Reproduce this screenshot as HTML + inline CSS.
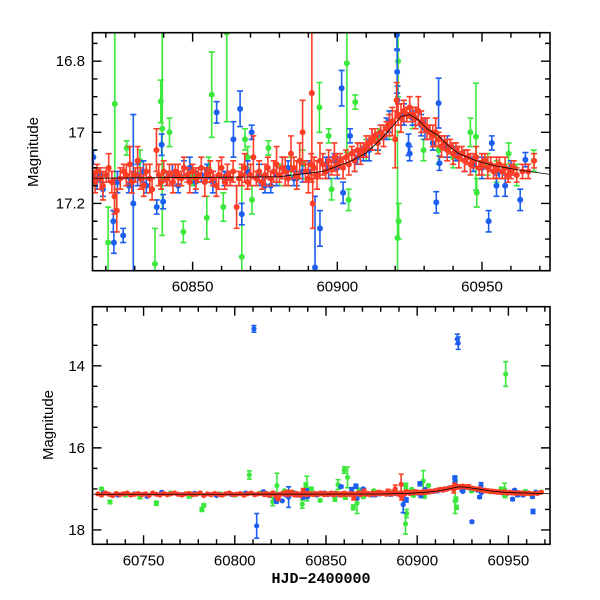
<!DOCTYPE html>
<html><head><meta charset="utf-8"><style>
html,body{margin:0;padding:0;background:#fff;}
svg{display:block;font-family:"Liberation Sans",sans-serif;}
</style></head><body>
<svg id="chart" width="600" height="600" viewBox="0 0 600 600" xmlns="http://www.w3.org/2000/svg">
<defs>
<clipPath id="clipTop"><rect x="92.5" y="32.7" width="457.5" height="238"/></clipPath>
<clipPath id="clipBot"><rect x="92.5" y="306.7" width="457.5" height="237.6"/></clipPath>
</defs>
<g id="topPanel"></g>
<g id="botPanel"></g>
<text x="0" y="0" transform="translate(38,152) rotate(-90)" text-anchor="middle" font-size="15">Magnitude</text>
<text x="0" y="0" transform="translate(53,425) rotate(-90)" text-anchor="middle" font-size="15">Magnitude</text>
<text x="321" y="583" text-anchor="middle" font-size="15" font-family="Liberation Mono, monospace" font-weight="bold">HJD−2400000</text>
</svg>
<script>
// ---- data ----
const redT=[60725,60727,60729,60731,60733,60735,60737,60739,60741,60743,60745,60747,60749,60751,60753,60755,60757,60759,60761,60763,60765,60767,60769,60771,60773,60775,60777,60779,60781,60783,60785,60787,60789,60791,60793,60795,60797,60799,60801,60803,60805,60807,60809,60811,60813,
60815.5,60816.3,60817.0,60818.1,60819.0,60820.2,60821.0,60822.1,60823.0,60823.8,60825.0,60826.2,60827.1,60828.3,60829.0,60830.2,60831.0,60832.0,60833.1,60834.0,60835.2,60836.0,60837.5,60838.3,60839.1,60840.0,60841.2,60842.0,60843.2,60844.0,60845.0,60846.1,60847.0,60848.2,60849.0,60850.0,60851.1,60852.0,60853.0,60854.2,60855.0,60856.1,60857.0,60858.2,60859.0,60860.0,60861.1,60862.0,60863.0,60864.0,60865.2,60866.0,60867.0,60868.0,60869.0,60870.0,60871.0,60872.0,60873.0,60874.0,60875.0,60876.0,60877.0,60878.0,60879.0,60880.0,60881.0,60882.0,60883.0,60884.0,60885.0,60886.0,60887.0,60888.0,60889.0,60890.0,60891.0,60891.5,60891.2,
60892,60893,60894,60895,60896,60897,60898,60899,60900,60901,60902,60903,60904,60905,60906,60907,60908,60909,60910,60911,60912,60913,60914,60915,60916,60917,60918,60919,60920,60920.5,60921,60922,60923,60924,60925,60926,60927,60928,60929,60930,60931,60932,60933,60934,60935,60936,60937,60938,60939,60940,60941,60942,60943,60944,60945,60946,60947,60948,60949,60950,60951,60952,60953,60954,60955,60956,60957,60958,60959,60960,60961,60962,60964,60966,60968];
const redM=[17.12,17.15,17.10,17.13,17.16,17.11,17.14,17.12,17.10,17.15,17.13,17.11,17.14,17.12,17.16,17.10,17.13,17.15,17.11,17.14,17.12,17.10,17.13,17.15,17.12,17.11,17.14,17.13,17.10,17.16,17.12,17.14,17.11,17.13,17.15,17.12,17.10,17.14,17.13,17.11,17.15,17.12,17.10,17.14,17.12,
17.12,17.14,17.11,17.13,17.15,17.12,17.10,17.14,17.18,17.22,17.13,17.11,17.12,17.09,17.14,17.12,17.08,17.13,17.15,17.11,17.13,17.16,17.05,17.12,17.14,17.11,17.13,17.12,17.14,17.11,17.12,17.13,17.10,17.12,17.14,17.11,17.13,17.12,17.10,17.14,17.12,17.11,17.13,17.15,17.12,17.10,17.14,17.12,17.13,17.11,17.21,17.13,17.12,17.10,17.14,17.12,17.07,17.13,17.11,17.14,17.12,17.10,17.13,17.11,17.09,17.12,17.10,17.11,17.13,17.06,17.10,17.12,17.08,17.00,17.11,17.13,17.09,17.20,16.89,
17.10,17.12,17.08,17.09,17.11,17.08,17.10,17.07,17.09,17.08,17.10,17.07,17.09,17.06,17.08,17.05,17.06,17.05,17.04,17.03,17.02,17.01,17.03,17.00,17.01,16.99,16.98,16.97,17.02,16.91,16.95,16.96,16.94,16.95,16.93,16.95,16.96,16.94,16.97,16.98,16.99,17.00,17.01,17.00,17.02,17.04,17.03,17.05,17.04,17.06,17.05,17.07,17.06,17.08,17.07,17.09,17.08,17.07,17.10,17.09,17.08,17.10,17.09,17.11,17.10,17.09,17.11,17.10,17.12,17.11,17.10,17.12,17.11,17.11,17.08];
const redE=[0.02,0.02,0.03,0.02,0.03,0.02,0.02,0.03,0.02,0.02,0.03,0.02,0.02,0.03,0.02,0.02,0.03,0.02,0.02,0.03,0.02,0.02,0.03,0.02,0.02,0.03,0.02,0.02,0.03,0.02,0.02,0.03,0.02,0.02,0.03,0.02,0.02,0.03,0.02,0.02,0.03,0.02,0.02,0.03,0.02,
0.02,0.03,0.02,0.03,0.04,0.02,0.04,0.03,0.05,0.06,0.03,0.02,0.03,0.05,0.03,0.02,0.04,0.03,0.03,0.02,0.04,0.03,0.06,0.03,0.02,0.03,0.02,0.03,0.03,0.02,0.03,0.02,0.03,0.02,0.03,0.02,0.03,0.02,0.03,0.04,0.02,0.03,0.02,0.03,0.04,0.03,0.02,0.03,0.02,0.03,0.06,0.02,0.03,0.04,0.02,0.03,0.06,0.02,0.03,0.02,0.03,0.03,0.02,0.03,0.05,0.02,0.03,0.04,0.02,0.05,0.03,0.04,0.05,0.09,0.03,0.04,0.03,0.07,0.25,
0.03,0.04,0.05,0.03,0.02,0.03,0.02,0.04,0.03,0.02,0.03,0.02,0.03,0.02,0.03,0.02,0.03,0.02,0.03,0.02,0.03,0.02,0.03,0.02,0.03,0.02,0.03,0.04,0.08,0.05,0.03,0.04,0.03,0.02,0.03,0.02,0.03,0.04,0.03,0.02,0.03,0.02,0.03,0.04,0.02,0.03,0.02,0.03,0.02,0.03,0.02,0.03,0.02,0.03,0.02,0.03,0.02,0.03,0.02,0.03,0.02,0.03,0.02,0.02,0.03,0.02,0.02,0.03,0.02,0.02,0.02,0.02,0.02,0.02,0.02];

const blueT=[60728,60736,60745,60752,60760,60771,60778,60790,60798,60806,60810.5,60812,60815.7,60817,60819,60822.6,60822.8,60826,60829.5,60831,60834,60837.6,60839.3,60839.8,60843,60847,60851,60855,60858.3,60861,60864.1,60866.4,60867,60870.4,60873,60877,60881,60885,60888,60892.3,60894,60897,60899,60901.5,60902,60904.4,60906,60909,60912,60915,60918,60920.6,60920.7,60920.8,60922,60922.5,60923,60924.6,60925,60927,60930,60930.3,60933,60934.2,60935,60935.3,60938,60941,60944,60947,60950,60952.3,60953.4,60955,60956,60958,60960,60963.2,60963.5,60965,
60818,60824,60828,60833,60841,60845,60849,60853,60857,60863,60869,60875,60879,60883,60886,60890,60896,60900,60907,60911,60914,60917,60926,60929];
const blueM=[17.10,17.15,17.12,17.18,17.08,17.14,17.11,17.16,17.13,17.10,13.10,17.90,17.07,17.13,17.16,17.25,17.31,17.29,17.20,17.12,17.15,17.21,17.035,17.195,17.12,17.10,17.14,17.11,16.944,17.13,17.02,16.934,17.23,17.00,17.12,17.15,17.10,17.13,17.11,17.38,17.27,17.10,17.08,16.876,17.17,17.01,17.08,17.06,17.02,17.00,16.97,16.726,16.83,16.91,13.35,13.45,16.95,17.035,17.06,16.96,17.80,16.99,17.03,17.197,16.918,17.087,17.04,17.06,17.08,17.09,17.10,17.25,17.03,17.15,17.11,17.15,17.10,17.19,17.55,17.077,
17.12,17.14,17.15,17.11,17.13,17.15,17.10,17.12,17.14,17.13,17.11,17.15,17.12,17.10,17.13,17.11,17.09,17.10,17.07,17.05,17.03,16.99,16.96,16.98];
const blueE=[0.02,0.03,0.02,0.03,0.02,0.02,0.03,0.02,0.03,0.02,0.08,0.30,0.02,0.03,0.02,0.03,0.03,0.02,0.25,0.03,0.02,0.02,0.03,0.02,0.03,0.02,0.03,0.02,0.03,0.02,0.05,0.05,0.03,0.02,0.03,0.02,0.03,0.02,0.03,0.20,0.05,0.03,0.02,0.05,0.03,0.02,0.03,0.02,0.03,0.02,0.03,0.04,0.06,0.04,0.12,0.15,0.03,0.03,0.02,0.03,0.02,0.03,0.02,0.03,0.07,0.02,0.03,0.02,0.03,0.02,0.03,0.03,0.02,0.03,0.02,0.03,0.02,0.03,0.05,0.02,
0.02,0.03,0.02,0.03,0.02,0.02,0.03,0.02,0.03,0.02,0.03,0.02,0.03,0.02,0.02,0.03,0.02,0.03,0.02,0.03,0.02,0.03,0.02,0.03];

const greenT=[60727,60731.6,60740,60748,60757,60765,60775,60782,60783,60792,60800,60808,60814,60820.8,60823.1,60827.2,60831.8,60837,60839,60839.5,60842,60846.8,60850,60854.9,60855.5,60856.6,60860,60860.6,60861.8,60865,60867,60868.1,60869,60870.5,60876.2,60880,60884,60888,60893.6,60893.8,60894.2,60897,60898,60903.3,60903.9,60906.2,60910,60914,60918,60920.8,60921,60921.2,60921.5,60926,60929.8,60935,60940,60946,60947.9,60948.2,60948.5,60952,60955,60959.2,60962,60967.9];
const greenM=[17.00,17.32,17.15,17.20,17.35,17.10,17.18,17.50,17.40,17.12,17.15,16.66,17.10,17.31,16.92,17.044,17.08,17.37,16.913,16.99,17.00,17.28,17.12,17.24,17.10,16.894,16.54,17.21,16.72,17.45,17.35,17.02,17.07,17.19,17.044,17.12,17.10,17.09,17.85,16.93,17.60,17.01,17.16,16.806,17.19,16.915,17.05,17.02,16.98,17.297,16.80,17.25,17.45,16.96,17.05,17.05,17.07,17.00,17.012,17.17,14.20,17.09,17.11,17.06,17.12,17.08];
const greenE=[0.03,0.04,0.03,0.04,0.05,0.03,0.04,0.05,0.04,0.03,0.03,0.10,0.03,0.10,0.30,0.02,0.03,0.10,0.06,0.30,0.04,0.03,0.03,0.06,0.03,0.12,0.08,0.04,0.25,0.06,0.25,0.03,0.03,0.04,0.02,0.03,0.03,0.04,0.25,0.07,0.10,0.02,0.03,0.25,0.03,0.02,0.03,0.03,0.04,0.30,0.10,0.05,0.05,0.03,0.03,0.04,0.03,0.04,0.15,0.04,0.30,0.03,0.03,0.03,0.03,0.03];

const modelT=[60720,60800,60880,60895,60900,60905,60910,60915,60920,60922,60925,60928,60931,60935,60938,60942,60948,60955,60962,60968,60975];
const modelM=[17.13,17.13,17.125,17.11,17.095,17.08,17.058,17.02,16.975,16.955,16.95,16.965,16.99,17.01,17.035,17.06,17.08,17.095,17.105,17.112,17.12];

const topXTicks=[60850,60900,60950];
const topYTicks=[16.8,17,17.2];
const botXTicks=[60750,60800,60850,60900,60950];
const botYTicks=[14,16,18];

// ---- rendering ----
const NS="http://www.w3.org/2000/svg";
function mk(tag,attrs,parent){const e=document.createElementNS(NS,tag);for(const k in attrs)e.setAttribute(k,attrs[k]);parent.appendChild(e);return e;}
const L=92.5,R=550;
const panels=[
 {g:document.getElementById('topPanel'),name:'top',top:32.7,bot:270.7,x0:60815.4,x1:60973.5,y0:16.72,y1:17.389,xMajor:50,xMinor:10,yMajor:0.2,yMinor:0.05,xT:topXTicks,yT:topYTicks,clip:'url(#clipTop)',r:3,cap:3},
 {g:document.getElementById('botPanel'),name:'bottom',top:306.7,bot:544.3,x0:60722,x1:60972.8,y0:12.56,y1:18.35,xMajor:50,xMinor:10,yMajor:2,yMinor:0.5,xT:botXTicks,yT:botYTicks,clip:'url(#clipBot)',r:2.6,cap:2.5}
];
const series=[
 {name:'green',T:greenT,M:greenM,E:greenE,c:'#3de83d'},
 {name:'blue',T:blueT,M:blueM,E:blueE,c:'#1c5ff0'},
 {name:'red',T:redT,M:redM,E:redE,c:'#ff3d26'}
];
panels.forEach(p=>{
 const xs=t=>L+(t-p.x0)/(p.x1-p.x0)*(R-L);
 const ys=m=>p.top+(m-p.y0)/(p.y1-p.y0)*(p.bot-p.top);
 const dg=mk('g',{'clip-path':p.clip},p.g);
 
 
 series.forEach(s=>{
  const sg=mk('g',{},dg);
  
  
  for(let i=0;i<s.T.length;i++){
   const x=xs(s.T[i]),y=ys(s.M[i]),ya=ys(s.M[i]-s.E[i]),yb=ys(s.M[i]+s.E[i]);
   const bar=mk('path',{d:`M${x},${ya}V${yb}M${x-p.cap},${ya}H${x+p.cap}M${x-p.cap},${yb}H${x+p.cap}`,stroke:s.c,'stroke-width':1.6,fill:'none'},sg);
   
   
   const pt=mk('circle',{cx:x,cy:y,r:p.r,fill:s.c},sg);
   
   
  }
 });
 let d='';
 for(let i=0;i<modelT.length;i++)d+=(i?'L':'M')+xs(modelT[i])+','+ys(modelM[i]);
 const ml=mk('path',{d:d,stroke:'#000','stroke-width':0.8,fill:'none'},dg);
 
 
 const fr=mk('rect',{x:L,y:p.top,width:R-L,height:p.bot-p.top,fill:'none',stroke:'#000','stroke-width':1.6},p.g);
 
 
 let td='';
 const xs0=Math.ceil(p.x0/p.xMinor)*p.xMinor;
 for(let t=xs0;t<=p.x1;t+=p.xMinor){const x=xs(t);const maj=Math.abs(t/p.xMajor-Math.round(t/p.xMajor))<1e-6;const len=maj?9:5;td+=`M${x},${p.bot}v${-len}M${x},${p.top}v${len}`;}
 const n0=Math.ceil(p.y0/p.yMinor-1e-6),n1=Math.floor(p.y1/p.yMinor+1e-6);
 for(let n=n0;n<=n1;n++){const m=n*p.yMinor;const y=ys(m);const maj=Math.abs(m/p.yMajor-Math.round(m/p.yMajor))<1e-6;const len=maj?9:5;td+=`M${L},${y}h${len}M${R},${y}h${-len}`;}
 const tk=mk('path',{d:td,stroke:'#000','stroke-width':1.4,fill:'none'},p.g);
 
 
 p.xT.forEach(v=>{
  const tx=mk('text',{x:xs(v),y:p.bot+21,'text-anchor':'middle','font-size':15},p.g);
  tx.textContent=String(v);
  
  
 });
 p.yT.forEach(v=>{
  const ty=mk('text',{x:85,y:ys(v)+5,'text-anchor':'end','font-size':15},p.g);
  ty.textContent=String(v);
  
  
 });
});
</script>
</body></html>
